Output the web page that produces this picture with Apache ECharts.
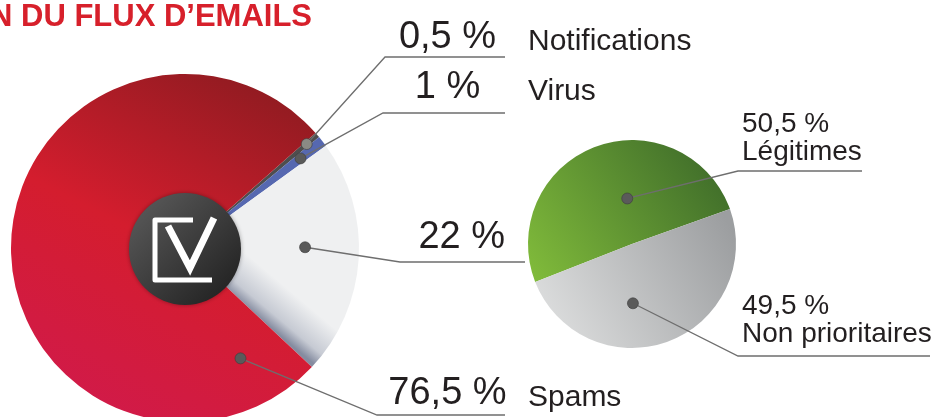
<!DOCTYPE html>
<html>
<head>
<meta charset="utf-8">
<script src="https://cdn.jsdelivr.net/npm/echarts@6/dist/echarts.min.js"></script>
<style>
html,body{margin:0;padding:0;background:#fff;}
#chart{width:934px;height:417px;}
</style>
</head>
<body>
<div id="chart"></div>
<script>
// données
var titleText = 'N DU FLUX D’EMAILS';
var bigNames = ['Notifications', 'Virus', '', 'Spams'];
var bigValues = [0.5, 1, 22, 76.5];
var smallNames = ['Légitimes', 'Non prioritaires'];
var smallValues = [50.5, 49.5];

var FONT = '"Liberation Sans", Arial, sans-serif';
var TXT = '#231f20';

// placement des étiquettes
var bigLabelPos = [
	{x: 390, y: 38, elbow: [385, 57], end: [505, 57], t: 0.5, r: 0.92, dot: '#8a8a84'},
	{x: 390, y: 88, elbow: [383, 113], end: [505, 113], t: 0.5, r: 0.84, dot: '#5a5a5a'},
	{x: 390, y: 238, elbow: [400, 262], end: [525, 262], t: 0.45, r: 0.69, dot: '#5a5a5a'},
	{x: 390, y: 394, elbow: [377, 415], end: [505, 415], t: 0.073, r: 0.71, dot: '#5a5a5a'}
];
var smallLabelPos = [
	{x: 742, y: 138, elbow: [738, 171], end: [862, 171], t: 0.58, r: 0.44, dot: '#5a5a5a'},
	{x: 742, y: 320, elbow: [738, 356], end: [930, 356], t: 0.61, r: 0.57, dot: '#5a5a5a'}
];

function pct(v){
	return String(v).replace('.', ',') + ' %';
}

var chart = echarts.init(document.getElementById('chart'));

// point à l'intérieur d'une part, d'après la mise en page du camembert
function dotPoint(seriesIndex, dataIndex, pos){
	var L = chart.getModel().getSeriesByIndex(seriesIndex).getData().getItemLayout(dataIndex);
	var a = L.startAngle + pos.t * (L.endAngle - L.startAngle);
	return [L.cx + L.r * pos.r * Math.cos(a), L.cy + L.r * pos.r * Math.sin(a)];
}

function makeLayout(list){
	return function(p){
		var pos = list[p.dataIndex];
		return {x: pos.x, y: pos.y, align: 'left', verticalAlign: 'middle'};
	};
}

var redFill = new echarts.graphic.LinearGradient(0.85, 0.05, 0.3, 1, [
	{offset: 0, color: '#921b21'},
	{offset: 0.5, color: '#d41d2e'},
	{offset: 1, color: '#d11a4a'}
]);
var paleFill = new echarts.graphic.LinearGradient(0.37, 0.74, 0.52, 0.6, [
	{offset: 0, color: '#858ca0'},
	{offset: 0.3, color: '#c6cad3'},
	{offset: 1, color: '#eff0f1'}
]);
var bigColors = ['#4e4e4e', '#5668b0', paleFill, redFill];

var greenFill = new echarts.graphic.LinearGradient(0, 1, 1, 0, [
	{offset: 0, color: '#82bd3b'},
	{offset: 1, color: '#386428'}
]);
var greyFill = new echarts.graphic.LinearGradient(0, 1, 1, 0.2, [
	{offset: 0, color: '#e3e4e4'},
	{offset: 1, color: '#9c9ea0'}
]);
var smallColors = [greenFill, greyFill];

var option = {
	animation: false,
	backgroundColor: '#fff',
	title: {
		text: titleText,
		left: -10,
		top: 2,
		padding: 0,
		textStyle: {color: '#d7202b', fontSize: 31, fontWeight: 'bold', fontFamily: FONT}
	},
	series: [
		{
			type: 'pie',
			center: [185, 248],
			radius: [0, 174],
			startAngle: 41.4,
			clockwise: true,
			avoidLabelOverlap: false,
			silent: true,
			emphasis: {disabled: true},
			data: bigValues.map(function(v, i){
				return {value: v, name: bigNames[i], itemStyle: {color: bigColors[i]}};
			}),
			label: {
				show: true,
				position: 'outside',
				formatter: function(p){
					var s = '{v|' + pct(p.value) + '}';
					if (bigNames[p.dataIndex]) {
						s += '{n|' + bigNames[p.dataIndex] + '}';
					}
					return s;
				},
				rich: {
					v: {width: 115, align: 'right', fontSize: 38, lineHeight: 38, verticalAlign: 'bottom', fontFamily: FONT, color: TXT},
					n: {fontSize: 30, lineHeight: 30, padding: [0, 0, 0, 23], verticalAlign: 'bottom', fontFamily: FONT, color: TXT}
				}
			},
			labelLine: {show: false},
			labelLayout: makeLayout(bigLabelPos)
		},
		{
			type: 'pie',
			center: [632, 244],
			radius: [0, 104],
			startAngle: 201.4,
			clockwise: true,
			avoidLabelOverlap: false,
			silent: true,
			emphasis: {disabled: true},
			data: smallValues.map(function(v, i){
				return {value: v, name: smallNames[i], itemStyle: {color: smallColors[i]}};
			}),
			label: {
				show: true,
				position: 'outside',
				formatter: function(p){
					return '{v|' + pct(p.value) + '}\n{n|' + p.name + '}';
				},
				rich: {
					v: {fontSize: 28, lineHeight: 28, fontFamily: FONT, color: TXT},
					n: {fontSize: 28, lineHeight: 28, fontFamily: FONT, color: TXT}
				}
			},
			labelLine: {show: false},
			labelLayout: makeLayout(smallLabelPos)
		}
	]
};
chart.setOption(option);

// traits de rappel + pastilles, ancrés sur les parts calculées par le camembert
var marks = [];
function addLeader(seriesIndex, list){
	list.forEach(function(pos, i){
		var p = dotPoint(seriesIndex, i, pos);
		marks.push({
			type: 'polyline', z: 90, silent: true,
			shape: {points: [p, pos.elbow, pos.end]},
			style: {stroke: '#6e6e6e', lineWidth: 1.3, fill: null}
		});
		marks.push({
			type: 'circle', z: 100, silent: true,
			shape: {cx: p[0], cy: p[1], r: 5.5},
			style: {fill: pos.dot, stroke: 'rgba(60,60,60,0.6)', lineWidth: 1}
		});
	});
}
addLeader(0, bigLabelPos);
addLeader(1, smallLabelPos);

// logo central
var c = chart.getModel().getSeriesByIndex(0).getData().getItemLayout(0);
var cx = c.cx, cy = c.cy + 1;
function pts(list){
	return list.map(function(q){ return [cx + q[0], cy + q[1]]; });
}
marks.push({
	type: 'circle', z: 110, silent: true,
	shape: {cx: cx, cy: cy, r: 56},
	style: {
		fill: new echarts.graphic.LinearGradient(0, 0, 1, 1, [
			{offset: 0, color: '#5e5e5e'},
			{offset: 1, color: '#1c1c1c'}
		]),
		shadowBlur: 4,
		shadowColor: 'rgba(0,0,0,0.35)'
	}
});
marks.push({
	type: 'polyline', z: 120, silent: true,
	shape: {points: pts([[8, -29], [-30, -29], [-30, 31], [27, 31]])},
	style: {stroke: '#fff', lineWidth: 5, fill: null, lineJoin: 'round'}
});
marks.push({
	type: 'polyline', z: 120, silent: true,
	shape: {points: pts([[-17, -23], [5, 19], [29, -31]])},
	style: {stroke: '#fff', lineWidth: 7, fill: null}
});

chart.setOption({graphic: marks});
</script>
</body>
</html>
